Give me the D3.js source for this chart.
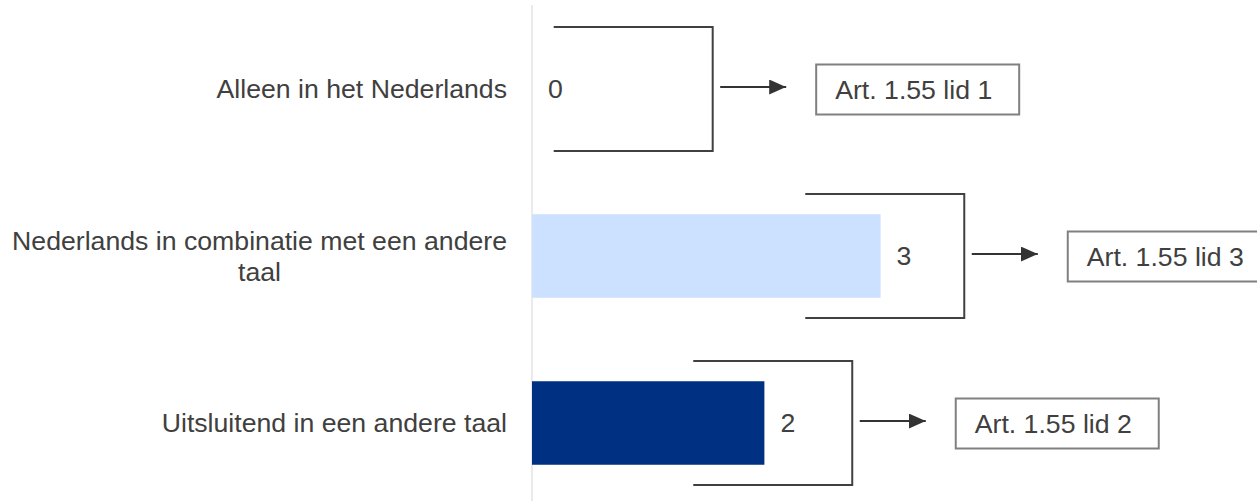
<!DOCTYPE html>
<html>
<head>
<meta charset="utf-8">
<script src="https://cdn.jsdelivr.net/npm/d3@7"></script>
<style>
  html, body { margin: 0; padding: 0; background: #fff; }
  svg { display: block; font-family: Arial, "Liberation Sans", sans-serif; }
</style>
</head>
<body>
<div id="chart"></div>
<script>
// Chart data
const categories = [
  "Alleen in het Nederlands",
  "Nederlands in combinatie met een andere taal",
  "Uitsluitend in een andere taal"
];
const values = [0, 3, 2];
const barColors = ["#cce0ff", "#cce0ff", "#003082"];
const articles = ["Art. 1.55 lid 1", "Art. 1.55 lid 3", "Art. 1.55 lid 2"];
// where each bracket closes, in value units
const bracketEnd = [1.555, 3.72, 2.756];

const width = 1257, height = 501;
const axisX = 532;

const svg = d3.select("#chart").append("svg")
  .attr("width", width)
  .attr("height", height);

const x = d3.scaleLinear().domain([0, 3]).range([axisX, axisX + 348.6]);
const y = d3.scaleBand()
  .domain(categories)
  .range([5.5, 506.5])
  .paddingInner(0.5)
  .paddingOuter(0.25);

const textColor = "#404040";
const fontSize = 26.67;

// axis line
svg.append("line")
  .attr("x1", axisX).attr("x2", axisX)
  .attr("y1", 5).attr("y2", height)
  .attr("stroke", "#e3e3e3")
  .attr("stroke-width", 1.5);

// bars
svg.selectAll(".bar")
  .data(values)
  .enter()
  .append("rect")
  .attr("class", "bar")
  .attr("x", x(0))
  .attr("y", (d, i) => y(categories[i]))
  .attr("width", d => x(d) - x(0))
  .attr("height", y.bandwidth())
  .attr("fill", (d, i) => barColors[i]);

// value labels
svg.selectAll(".val")
  .data(values)
  .enter()
  .append("text")
  .attr("class", "val")
  .attr("x", d => x(d) + 16)
  .attr("y", (d, i) => y(categories[i]) + y.bandwidth() / 2)
  .attr("dy", "0.35em")
  .attr("font-size", fontSize)
  .attr("fill", textColor)
  .text(d => d);

// category labels, wrapped and centered as a block right-aligned to the axis
const labelRight = 507, maxW = 500;
categories.forEach((c, i) => {
  const g = svg.append("text")
    .attr("font-size", fontSize)
    .attr("fill", textColor);
  const words = c.split(" ");
  const lines = [];
  let line = [];
  const probe = g.append("tspan");
  words.forEach(w => {
    line.push(w);
    probe.text(line.join(" "));
    if (probe.node().getComputedTextLength() > maxW && line.length > 1) {
      line.pop();
      lines.push(line.join(" "));
      line = [w];
    }
  });
  lines.push(line.join(" "));
  let blockW = 0;
  lines.forEach(l => {
    probe.text(l);
    blockW = Math.max(blockW, probe.node().getComputedTextLength());
  });
  probe.remove();
  const cx = labelRight - blockW / 2;
  const cy = y(c) + y.bandwidth() / 2;
  const lh = 31;
  lines.forEach((l, k) => {
    g.append("tspan")
      .attr("x", cx)
      .attr("y", cy + (k - (lines.length - 1) / 2) * lh)
      .attr("dy", "0.35em")
      .attr("text-anchor", "middle")
      .text(l);
  });
});

// brackets, arrows and article boxes
const bracketW = 159, bracketHalf = 62;
svg.append("defs").append("marker")
  .attr("id", "head")
  .attr("viewBox", "0 0 17 15")
  .attr("refX", 17).attr("refY", 7.5)
  .attr("markerWidth", 17).attr("markerHeight", 15)
  .attr("markerUnits", "userSpaceOnUse")
  .attr("orient", "auto")
  .append("path")
  .attr("d", "M0,0L17,7.5L0,15Z")
  .attr("fill", "#333");

bracketEnd.forEach((v, i) => {
  const cy = y(categories[i]) + y.bandwidth() / 2;
  const right = x(v);
  const left = right - bracketW;
  svg.append("path")
    .attr("d", `M${left},${cy - bracketHalf}H${right}V${cy + bracketHalf}H${left}`)
    .attr("fill", "none")
    .attr("stroke", "#404040")
    .attr("stroke-width", 2);

  const ay = cy - 2;
  const a0 = right + 7.5, a1 = a0 + 66;
  svg.append("line")
    .attr("x1", a0).attr("x2", a1)
    .attr("y1", ay).attr("y2", ay)
    .attr("stroke", "#333")
    .attr("stroke-width", 2)
    .attr("marker-end", "url(#head)");

  const bx = a1 + 30, bw = 203, bh = 50;
  svg.append("rect")
    .attr("x", bx).attr("y", cy - bh / 2 + 0.5)
    .attr("width", bw).attr("height", bh)
    .attr("fill", "#fff")
    .attr("stroke", "#808080")
    .attr("stroke-width", 2);
  svg.append("text")
    .attr("x", bx + 19)
    .attr("y", cy + 0.5)
    .attr("dy", "0.35em")
    .attr("font-size", fontSize)
    .attr("fill", textColor)
    .text(articles[i]);
});
</script>
</body>
</html>
